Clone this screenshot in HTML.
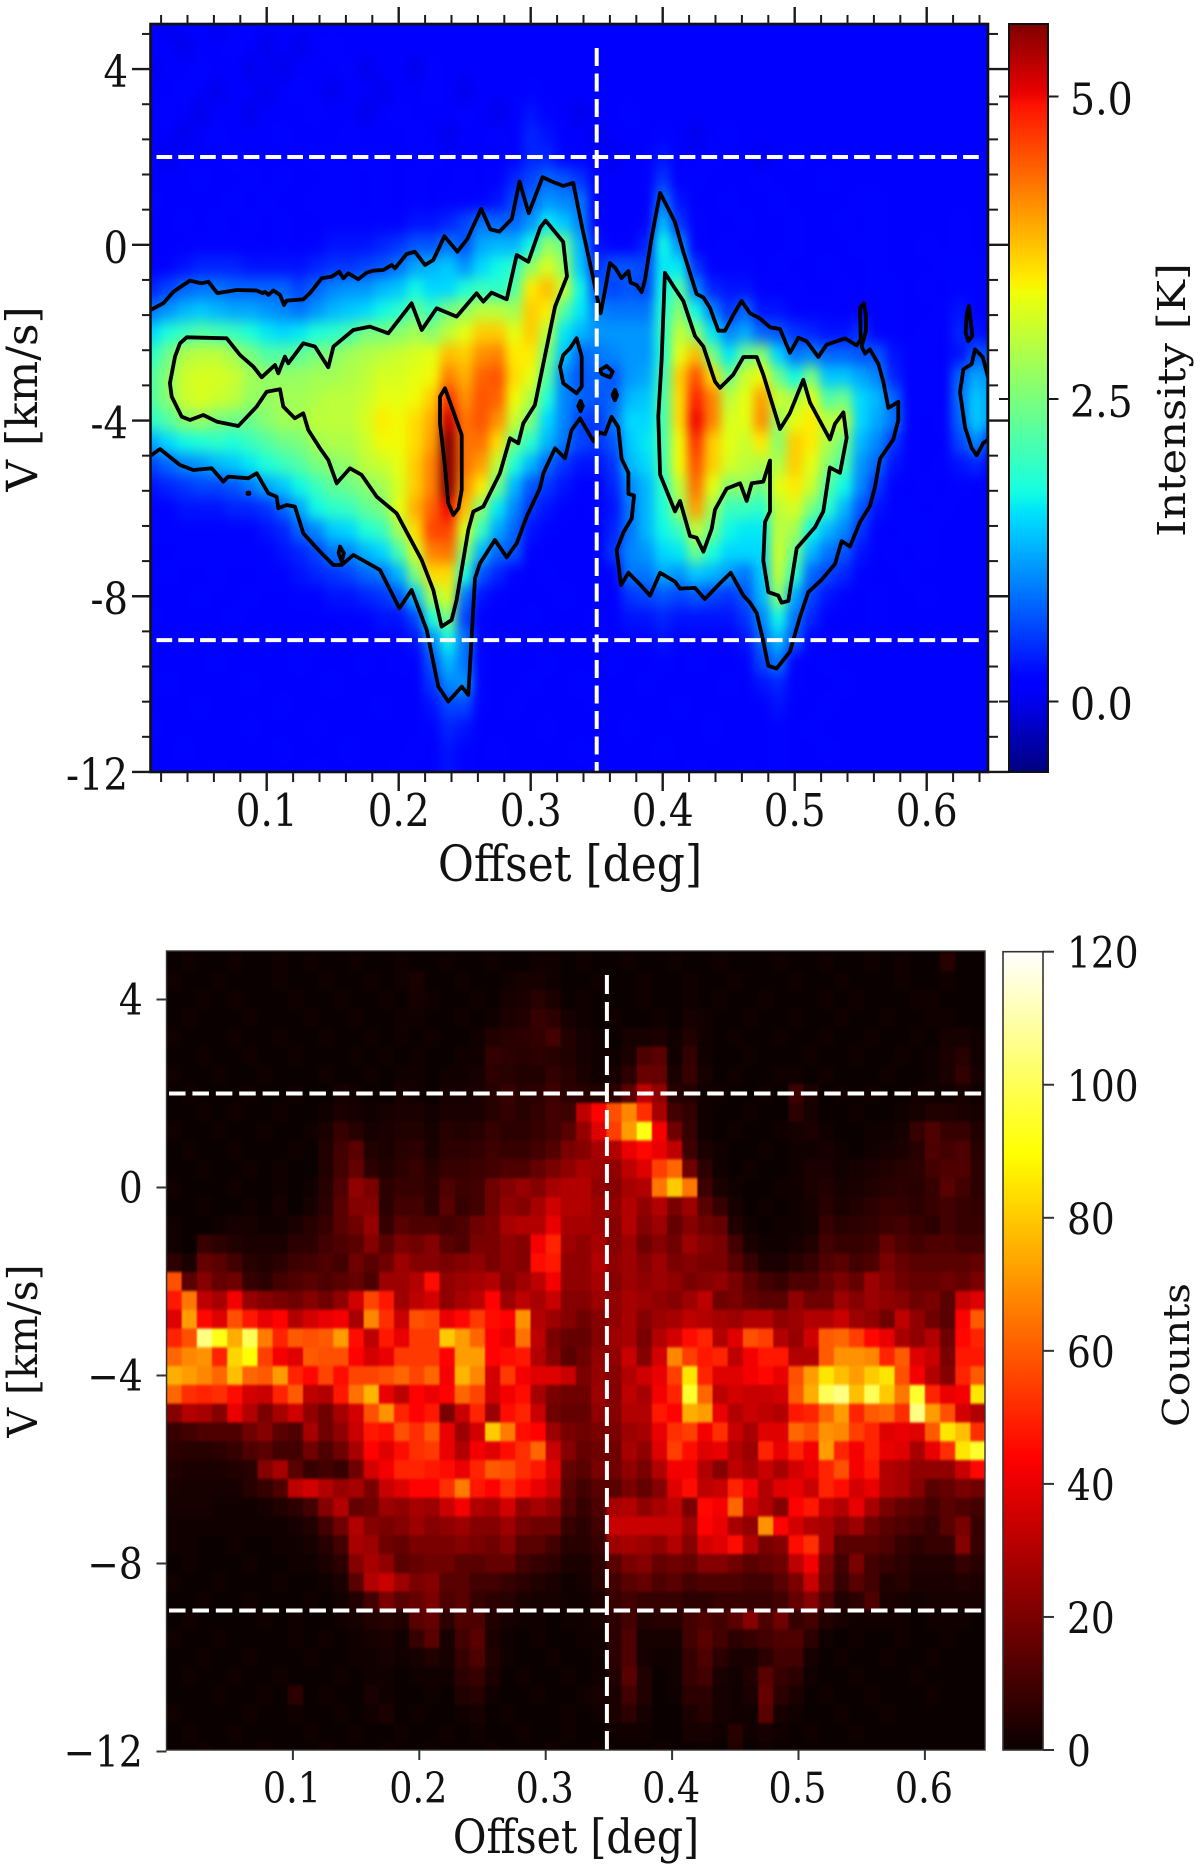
<!DOCTYPE html>
<html lang="en">
<head>
<meta charset="utf-8">
<title>Position-velocity diagrams</title>
<style>
html,body{margin:0;padding:0;background:#fff;}
svg{display:block;}
text{font-family:"DejaVu Serif","Liberation Serif",serif;fill:#111;}
</style>
</head>
<body>
<svg id="fig" width="1200" height="1868" viewBox="0 0 1200 1868" xmlns="http://www.w3.org/2000/svg">
<defs>
<clipPath id="clipTop"><rect x="150.5" y="24" width="837.5" height="748"/></clipPath>
<clipPath id="clipBot"><rect x="166.5" y="951" width="818.5" height="799"/></clipPath>
<filter id="blurTop" filterUnits="userSpaceOnUse" x="100" y="-30" width="950" height="860" color-interpolation-filters="sRGB"><feGaussianBlur stdDeviation="5 7"/></filter>
<filter id="blurBot" filterUnits="userSpaceOnUse" x="140" y="920" width="880" height="860" color-interpolation-filters="sRGB"><feGaussianBlur stdDeviation="0.8 1.4"/></filter>
<linearGradient id="gradJet" x1="0" y1="1" x2="0" y2="0"></linearGradient>
<linearGradient id="gradHot" x1="0" y1="1" x2="0" y2="0"></linearGradient>
</defs>
<g id="panelTop">
<rect x="150.5" y="24" width="837.5" height="748" fill="#0000ff"/>
<g clip-path="url(#clipTop)"><g id="heatTop" filter="url(#blurTop)"></g></g>
<g id="contoursTop" clip-path="url(#clipTop)"></g>
<g id="refTop"></g>
<g id="axesTop"></g>
</g>
<g id="panelBot">
<rect x="166.5" y="951" width="818.5" height="799" fill="#0b0000"/>
<g clip-path="url(#clipBot)"><g id="heatBot" filter="url(#blurBot)"></g></g>
<g id="refBot"></g>
<g id="axesBot"></g>
</g>
</svg>
<script>
// ---------- top panel data ----------
const intensityOffsets=[.0125,.025,.0375,.05,.0625,.075,.0875,.1,.1125,.125,.1375,.15,.1625,.175,.1875,.2,.2125,.225,.2375,.25,.2625,.275,.2875,.3,.3125,.325,.3375,.35,.3625,.375,.3875,.4,.4125,.425,.4375,.45,.4625,.475,.4875,.5,.5125,.525,.5375,.55,.5625,.575,.5875,.6,.6125,.625,.6375,.65];
const intensityVelocities=[5,4.5,4,3.5,3,2.5,2,1.5,1,.5,0,-.5,-1,-1.5,-2,-2.5,-3,-3.5,-4,-4.5,-5,-5.5,-6,-6.5,-7,-7.5,-8,-8.5,-9,-9.5,-10,-10.5,-11,-11.5,-12];
// brightness in tenths of a kelvin per velocity row; values missing at a row's end read as 1
const intensityTenthsK=[
[1,0,1,1,0,1,2],
[1,1,0,1,1,2,1,0,1,0,1,2],
[0,1,1,2,1,1,0,1,0,1,1,1,2,0,1,1,0,2],
[1,1,2,1,0,1,1,0,1,2,1,0,1,1,0,1,1,2,1,0,1,1,1,2],
[1,2,1,0,1,1,0,1,1,1,2,1,1,0,1,2,1,1,1,2,1,0,1,3,2,1,0,1,1,2],
[1,1,0,1,2,1,1,1,2,1,1,1,2,1,1,1,2,1,0,1,1,2,1,4,3,1,1,0,1,1,1,2,1,0,1,2],
[1,0,1,1,1,2,1,1,1,1,2,2,1,2,2,1,1,2,1,1,1,1,2,4,4,2,1,1,0,1,1,3,1,1,2,1,1,0,1,2],
[1,1,1,2,1,1,2,1,2,1,1,2,2,1,2,1,2,1,1,2,1,2,4,6,8,7,5,1,1,1,1,5,1,2,1,1,1,2,1,1,1,2],
[2,1,1,1,1,2,1,2,1,1,2,2,2,1,2,1,2,1,2,2,2,3,6,8,11,10,9,2,1,1,1,9,3,1,1,2,1,1,2,1,1,1,1,2,2],
[1,1,2,1,2,1,2,1,2,1,1,2,2,2,2,2,3,3,4,6,9,8,8,11,16,14,10,2,1,1,2,13,5,2,1,1,2,1,1,2,1,1,2,1,2,1,1,1,1,2],
[1,1,1,2,2,2,1,1,2,1,2,3,3,3,4,5,7,7,9,7,12,13,13,17,27,24,13,3,2,2,4,17,11,2,1,2,1,1,1,2,1,1,1,2,2,1,1,2,1,2],
[1,2,3,4,4,4,3,3,3,3,4,5,5,6,7,9,12,13,14,11,15,17,19,27,32,27,14,5,7,7,6,16,16,5,2,2,2,1,2,1,1,2,1,1,2,1,1,1,2,2,2],
[4,6,8,9,9,8,8,8,8,6,8,10,11,11,13,14,17,15,15,18,20,19,22,35,38,31,17,7,6,7,6,17,22,10,4,3,3,2,1,2,1,1,2,1,2,2,1,2,1,2,2],
[9,11,13,14,13,12,12,11,10,9,11,13,14,15,17,19,23,20,25,27,30,30,28,37,35,22,16,10,9,9,9,18,26,17,10,5,8,3,3,2,2,2,1,2,2,2,1,1,2,3,2],
[15,18,20,22,21,20,18,16,15,16,18,19,21,25,25,26,28,26,30,33,37,37,33,37,30,16,13,11,11,11,11,19,30,26,16,10,12,8,7,5,4,3,3,5,2,2,1,2,1,4,3,2],
[19,24,29,30,30,28,25,22,22,23,25,26,28,29,30,31,32,33,38,37,41,42,35,35,25,14,8,9,10,11,11,18,33,38,25,16,24,26,15,9,10,8,8,7,7,3,2,2,1,3,7,7],
[22,26,31,32,32,31,28,27,27,27,28,28,29,30,32,32,33,34,42,39,44,45,36,33,22,10,7,8,7,11,12,20,37,45,36,24,31,34,24,17,25,14,14,12,10,4,2,2,1,8,12,10],
[22,26,31,32,31,30,27,27,28,28,29,30,30,31,33,33,34,37,47,41,45,44,34,29,18,10,8,7,8,13,14,21,36,48,42,30,33,40,31,29,33,22,24,15,13,8,2,2,1,9,14,11],
[19,22,26,27,25,24,24,26,28,28,30,30,30,32,35,34,36,39,52,43,45,41,31,25,15,10,6,5,9,15,15,21,36,50,42,32,33,41,27,33,35,30,30,15,12,9,2,1,2,8,14,11],
[12,15,17,18,19,18,20,22,24,25,28,29,29,31,34,34,36,40,56,43,43,36,24,19,13,9,6,5,7,14,16,21,34,47,37,33,31,35,26,37,35,29,24,13,10,5,2,1,1,6,10,4],
[6,8,10,11,13,14,16,18,20,22,25,26,27,30,31,33,37,42,57,43,40,30,18,13,8,5,3,3,5,13,15,21,34,45,37,32,30,29,29,37,33,26,21,11,8,3,2,1,2,3,4,2],
[3,4,5,6,6,7,9,12,14,17,20,23,24,26,28,32,37,42,56,41,35,24,13,7,5,3,2,2,4,10,13,19,30,43,33,26,27,24,33,35,31,22,17,10,5,2,1,2,1,2],
[2,2,3,3,3,4,4,5,8,12,17,19,20,23,25,33,39,44,50,38,26,16,10,5,3,2,1,2,3,9,13,18,27,40,28,20,20,19,30,32,25,19,13,7,3,2,2,1,2],
[2,2,2,2,2,2,2,3,4,8,10,14,15,18,20,28,36,46,46,32,20,12,8,3,2,1,1,1,4,9,13,17,20,30,24,17,16,16,30,28,17,13,10,5,2,1,2,2],
[1,1,2,2,2,2,2,2,3,4,6,9,10,13,15,21,32,42,43,26,13,8,7,2,1,1,1,1,5,10,11,15,16,24,18,15,15,15,31,24,13,9,7,3,1,2,1,2],
[1,2,1,1,2,1,1,2,2,3,4,5,6,8,9,13,25,36,36,18,7,4,2,1,2,1,1,1,2,9,9,12,11,14,13,11,9,14,30,19,8,6,4,2,1,1,2],
[1,1,1,2,1,1,2,1,1,2,2,3,3,4,5,7,14,28,32,9,3,2,1,1,1,2,1,1,1,5,6,7,6,7,6,5,7,13,26,12,6,3,2,1,2,1,1,2],
[2,1,1,1,1,2,1,1,1,1,1,1,2,2,3,3,6,18,25,6,2,1,1,2,1,1,1,2,1,3,3,4,3,3,3,3,5,10,17,9,4,2,1,1,2],
[1,1,2,1,1,1,1,2,1,1,2,1,1,1,2,2,3,10,17,9,2,1,2,1,1,1,1,1,1,2,2,3,2,2,2,2,3,8,13,7,2,1,1,2],
[1,1,1,1,2,1,1,1,1,2,1,1,1,2,1,2,2,7,13,9,2,1,1,1,2,1,1,1,2,1,1,2,1,2,1,1,2,6,9,2,1,2],
[1,2,1,1,1,1,2,1,1,1,1,2,1,1,1,1,1,5,10,11,2,1,1,2,1,1,2,1,1,1,2,1,1,1,1,2,1,3,4,2,1,1,2],
[1,1,1,2,1,1,1,1,2,1,1,1,1,1,2,1,1,3,6,6,2,1,2,1,1,1,1,2,1,1,1,1,2,1,1,1,1,1,3,1,1,2],
[2,1,1,1,1,1,2,1,1,1,2,1,1,1,1,1,1,2,4,3,1,1,1,1,2,1,1,1,1,2,1,1,1,1,2,1,1,1,2,1,2],
[1,1,2,1,1,1,1,1,2,1,1,1,2,1,1,1,2,1,3,2,1,2,1,1,1,1,2,1,1,1,1,2,1,1,1,1,1,1,2,1,1,2],
[1,1,1,1,2,1,1,1,1,1,2,1,1,1,1,2,1,1,3,2,1,1,1,2,1,1,1,2,1,1,1,1,1,2,1,1,2,1,2,1]
];
// contour vertices as [offset deg, velocity km/s]
const contourOuter=[[.0128,-1.47],[.0217,-1.33],[.0293,-1.07],[.0368,-.915],[.0419,-.816],[.0507,-.877],[.0558,-.839],[.0626,-1.1],[.0772,-1.03],[.0924,-1.04],[.0969,-1.1],[.0987,-1.07],[.1012,-1.14],[.105,-1.04],[.1101,-1.14],[.1131,-1.37],[.1151,-1.27],[.1277,-1.24],[.1328,-1.1],[.1416,-.763],[.1492,-.725],[.155,-.611],[.158,-.763],[.1618,-.649],[.1694,-.786],[.1757,-.634],[.1808,-.588],[.1883,-.573],[.1947,-.459],[.1972,-.535],[.206,-.209],[.2123,-.156],[.2199,-.459],[.2262,-.346],[.2346,.196],[.2445,-.157],[.252,.13],[.2625,.82],[.2695,.35],[.2764,.3],[.2857,.59],[.2915,1.44],[.2985,.72],[.309,1.54],[.316,1.44],[.3246,1.34],[.3322,1.41],[.339,.39],[.348,-.85],[.3507,-1.24],[.353,-1.556],[.3563,-1.037],[.3601,-.414],[.3639,-.518],[.3689,-.757],[.374,-.598],[.3757,-.861],[.3803,-.917],[.3841,-1.077],[.3866,-.797],[.3916,.161],[.398,1.184],[.4093,.52],[.4156,-.158],[.4257,-1.117],[.4308,-1.197],[.4358,-1.436],[.4421,-1.955],[.4472,-1.955],[.4535,-1.596],[.4598,-1.276],[.4661,-1.556],[.4737,-1.676],[.4813,-1.876],[.4889,-1.916],[.4964,-2.459],[.5028,-2.115],[.5091,-2.195],[.5179,-2.554],[.5242,-2.275],[.5381,-2.131],[.5469,-2.291],[.55,-2.155],[.5495,-1.436],[.5525,-1.332],[.554,-1.596],[.554,-1.955],[.5507,-2.315],[.5533,-2.475],[.557,-2.379],[.5634,-2.714],[.5671,-3.114],[.571,-3.713],[.5785,-3.577],[.5785,-3.992],[.5747,-4.431],[.5646,-4.871],[.5608,-5.51],[.557,-5.949],[.5495,-6.309],[.5419,-6.868],[.5356,-6.748],[.5305,-7.267],[.5204,-7.626],[.5103,-7.906],[.504,-8.465],[.4964,-9.264],[.4863,-9.647],[.48,-9.583],[.4762,-9.024],[.4712,-8.385],[.4661,-8.146],[.4611,-7.986],[.4515,-7.467],[.4434,-7.706],[.432,-8.066],[.4245,-7.81],[.4131,-7.826],[.4093,-7.666],[.398,-7.467],[.3904,-7.986],[.3828,-7.73],[.374,-7.467],[.3684,-7.746],[.3651,-6.947],[.3702,-6.548],[.3765,-6.229],[.3783,-5.71],[.374,-5.669],[.374,-5.19],[.3689,-4.871],[.3664,-4.152],[.3613,-3.912],[.3563,-4.312],[.352,-4.27],[.3475,-4.471],[.3374,-3.952],[.331,-4.215],[.326,-4.86],[.3184,-4.632],[.3096,-5.2],[.307,-5.543],[.297,-6.188],[.2894,-6.795],[.2818,-7.113],[.2729,-6.719],[.2616,-7.25],[.2578,-7.591],[.2527,-10.247],[.2477,-10.057],[.2376,-10.399],[.23,-10.057],[.2212,-8.767],[.2098,-7.857],[.2005,-8.274],[.1858,-7.402],[.1656,-7.06],[.1568,-7.288],[.1505,-7.288],[.1404,-6.985],[.1277,-6.567],[.1214,-5.96],[.1151,-5.922],[.1088,-5.998],[.1075,-5.733],[.1012,-5.657],[.0924,-5.2],[.0861,-5.315],[.0709,-5.277],[.0671,-5.391],[.0583,-5.088],[.0444,-5.126],[.0343,-5.012],[.0192,-4.648],[.0128,-4.784]];
const contourMiddleLeft=[[.0394,-2.106],[.0697,-2.129],[.0798,-2.508],[.0899,-2.774],[.0962,-3.016],[.1063,-2.736],[.1088,-2.925],[.1138,-2.546],[.1164,-2.698],[.1277,-2.242],[.1366,-2.318],[.1467,-2.789],[.1505,-2.318],[.1656,-1.939],[.1782,-1.863],[.1921,-2.015],[.201,-1.673],[.2098,-1.332],[.2174,-1.939],[.2287,-1.446],[.2439,-1.635],[.259,-1.104],[.2641,-1.294],[.2704,-1.089],[.2818,-1.241],[.2894,-.232],[.2982,-.384],[.3072,.39],[.3113,.55],[.3246,.065],[.3275,-.72],[.3184,-1.408],[.3032,-3.646],[.2944,-4.063],[.2906,-4.519],[.2843,-4.405],[.2767,-5.201],[.2641,-5.96],[.2565,-6.074],[.2527,-6.491],[.2439,-8.085],[.2401,-8.54],[.2325,-8.692],[.2262,-7.857],[.2174,-7.174],[.1984,-6.112],[.1833,-5.733],[.1719,-5.239],[.1631,-5.088],[.153,-5.429],[.1467,-4.898],[.1404,-4.632],[.1315,-4.215],[.1277,-3.836],[.1214,-3.95],[.1126,-3.684],[.1101,-3.29],[.1,-3.343],[.0924,-3.684],[.0785,-4.124],[.0621,-4.025],[.052,-3.874],[.0419,-3.988],[.0356,-3.912],[.028,-3.456],[.0267,-3.153],[.0305,-2.546],[.0343,-2.242]];
const contourPeak=[[.2351,-3.267],[.2401,-3.684],[.2477,-4.329],[.2477,-5.581],[.2452,-6],[.2414,-6.15],[.2376,-5.884],[.2351,-5.05],[.2313,-4.063],[.2313,-3.456]];
const contourHole=[[.3348,-2.129],[.3386,-2.546],[.3386,-3.229],[.3348,-3.38],[.3247,-3.153],[.3222,-2.774],[.3247,-2.508],[.3298,-2.356]];
const contourGapLoop=[[.3525,-2.85],[.3575,-2.76],[.3621,-2.888],[.3601,-3.016],[.3538,-2.94]];
const contourDotA=[[.3378,-3.55],[.3395,-3.67],[.3378,-3.79],[.336,-3.67]];
const contourDotB=[[.3638,-3.3],[.3655,-3.42],[.3638,-3.54],[.362,-3.42]];
const contourDotC=[[.0855,-5.64],[.0868,-5.64],[.0868,-5.67],[.0855,-5.67]];
const contourLoop=[[.1555,-6.87],[.1585,-7.02],[.1568,-7.21],[.1545,-7.02]];
const contourMiddleRight=[[.4017,-.638],[.4093,-.997],[.4156,-1.276],[.4245,-2.075],[.4308,-2.315],[.4396,-3.114],[.4434,-3.257],[.4535,-2.954],[.4611,-2.555],[.4712,-2.555],[.4762,-2.954],[.4889,-4.192],[.4964,-3.832],[.5065,-3.074],[.5116,-3.593],[.5267,-4.431],[.5305,-4.072],[.5369,-3.816],[.5394,-4.391],[.5343,-5.19],[.5267,-5.07],[.5217,-6.069],[.5154,-6.428],[.5015,-6.908],[.4952,-8.106],[.4901,-8.146],[.4876,-7.986],[.48,-7.906],[.4762,-7.187],[.4775,-6.309],[.4813,-6.069],[.4813,-4.91],[.4762,-5.39],[.4674,-5.43],[.4636,-5.829],[.4586,-5.43],[.4485,-5.55],[.4396,-6.029],[.4371,-6.468],[.4308,-6.987],[.4257,-6.668],[.4207,-6.628],[.4131,-5.829],[.4093,-6.069],[.398,-5.23],[.3967,-3.912],[.3992,-2.634]];
const contourIsland=[[.6366,-2.379],[.6424,-2.554],[.6467,-3.034],[.6467,-4.431],[.6429,-4.511],[.6379,-4.791],[.6341,-4.631],[.629,-4.152],[.6252,-3.353],[.6278,-2.834],[.6341,-2.714]];
const contourSpike=[[.632,-1.396],[.6346,-2.075],[.6315,-2.195],[.6295,-1.995],[.6303,-1.596]];
const offsetTicks=[.1,.2,.3,.4,.5,.6];
const offsetTickLabels=["0.1","0.2","0.3","0.4","0.5","0.6"];
const velocityTicks=[4,0,-4,-8,-12];
const velocityLabelsTop=["4","0","-4","-8","-12"];
const velocityLabelsBottom=["4","0","\u22124","\u22128","\u221212"];
const intensityBarTicks=[0,2.5,5];
const intensityBarLabels=["0.0","2.5","5.0"];
const countBarTicks=[0,20,40,60,80,100,120];
const countBarLabels=["0","20","40","60","80","100","120"];
const referenceVelocities=[2,-9];
const referenceOffset=[.35];

// ---------- bottom panel data ----------
const countOffsets=[.006,.018,.03,.042,.054,.066,.078,.09,.102,.114,.126,.138,.15,.162,.174,.186,.198,.21,.222,.234,.246,.258,.27,.282,.294,.306,.318,.33,.342,.354,.366,.378,.39,.402,.414,.426,.438,.45,.462,.474,.486,.498,.51,.522,.534,.546,.558,.57,.582,.594,.606,.618,.63,.642];
const countVelocities=[4.8,4.4,4,3.6,3.2,2.8,2.4,2,1.6,1.2,.8,.4,0,-.4,-.8,-1.2,-1.6,-2,-2.4,-2.8,-3.2,-3.6,-4,-4.4,-4.8,-5.2,-5.6,-6,-6.4,-6.8,-7.2,-7.6,-8,-8.4,-8.8,-9.2,-9.6,-10,-10.4,-10.8,-11.2,-11.6,-12];
// counts per velocity row; values missing at a row's end read as 0
const countRows=[
[0,1,0,0,1,0,0,1,0,1,0,0,1,0,0,1,0,0,1,0,0,1,0,0,1,1,0,1,0,0,1,0,0,1,0,0,1,0,0,0,1,0,0,1,0,0,1,0,1,0,0,5],
[1,0,0,1,0,0,0,1,0,0,1,0,0,1,0,1,3,0,0,1,0,0,1,2,2,1,0,0,1,0,0,1,0,0,1,0,0,1,0,0,0,1,0,0,1,0,0,0,1,0,0,1],
[0,0,1,0,1,0,0,0,1,0,0,1,0,0,1,0,2,1,0,0,1,0,2,3,5,3,0,1,0,0,0,1,0,0,1,0,1,0,0,1,0,0,0,1,0,1,0,0,0,1,1],
[0,1,0,0,0,1,0,0,0,1,0,0,1,0,0,1,1,0,0,1,0,1,3,4,8,6,2,1,0,1,0,0,1,0,2,1,0,0,1,0,0,1,0,0,1,0,0,1,0,0,1,1],
[1,0,0,0,1,0,0,1,0,0,1,0,0,1,0,1,0,1,0,0,1,4,5,6,7,10,4,2,1,0,2,2,3,1,4,1,0,1,0,0,1,0,0,1,0,0,1,0,0,1,0,2,2,1],
[0,0,1,0,0,1,0,0,1,0,0,0,1,0,1,0,1,0,0,1,1,7,6,5,6,5,4,2,1,1,3,12,14,1,7,1,0,0,1,0,0,0,1,0,0,1,0,0,1,0,1,3,5,1],
[1,0,0,1,0,0,1,0,0,0,1,0,0,1,0,1,1,0,1,1,2,6,5,4,4,7,5,3,1,2,6,17,16,3,8,2,0,1,0,0,1,1,0,1,0,0,0,1,0,0,1,3,7,2],
[0,1,0,0,0,1,0,0,1,0,0,2,1,0,0,2,1,0,2,2,3,5,8,5,6,9,6,5,4,6,14,32,24,5,4,1,1,0,0,1,0,9,3,0,1,0,1,0,0,1,1,1,2,1],
[0,0,1,0,1,0,0,1,0,0,1,3,2,1,2,3,3,1,3,3,3,5,7,5,7,10,9,32,44,58,68,52,28,10,7,1,0,0,1,0,0,6,2,0,0,1,0,0,1,2,4,4,3,2],
[1,0,0,1,0,0,1,0,0,1,3,8,5,2,3,4,4,2,5,4,5,8,6,6,8,10,14,25,38,55,72,92,42,18,8,1,0,1,0,0,1,2,3,1,0,0,1,1,2,8,12,8,8,4],
[0,1,0,0,1,0,0,0,1,0,4,10,14,4,3,5,6,3,6,6,7,9,8,8,10,13,20,22,28,30,40,45,40,32,9,3,1,0,0,1,0,1,1,2,1,0,1,2,3,5,12,10,12,5],
[0,0,1,0,0,1,0,1,0,0,4,10,16,6,4,6,8,5,8,8,9,10,12,12,16,20,24,28,26,24,32,38,55,62,18,6,1,0,1,0,0,1,3,3,1,2,3,4,5,6,10,12,12,6],
[1,0,0,0,1,0,0,1,0,1,5,12,24,20,6,8,8,6,12,9,10,18,22,25,22,28,30,30,24,22,28,30,65,80,65,9,3,1,0,0,1,1,3,4,2,3,4,5,6,5,8,14,10,6],
[0,0,1,0,0,1,0,2,0,2,6,14,22,22,6,10,10,6,14,8,10,18,24,22,28,35,30,30,26,24,30,24,30,20,26,14,8,2,0,1,0,1,2,5,3,4,6,8,7,6,8,10,8,7],
[1,0,0,1,2,2,1,1,3,5,8,14,18,25,8,14,12,12,10,12,18,20,28,30,30,40,28,28,26,22,30,22,26,16,22,18,16,4,1,0,1,1,2,8,5,6,7,9,10,8,6,10,8,8],
[1,0,8,6,4,3,3,3,6,6,10,12,14,22,14,20,18,22,14,12,20,20,24,22,42,50,26,24,28,22,26,18,22,18,26,22,20,10,3,1,1,2,4,10,8,8,9,16,12,10,12,12,10,10],
[6,3,16,14,10,5,4,6,9,10,12,10,18,14,18,26,22,22,20,22,24,20,24,22,46,48,24,24,30,24,26,22,26,20,22,20,20,14,8,3,3,5,8,12,14,10,12,20,16,14,14,14,14,16],
[58,14,22,16,18,8,6,10,12,14,12,14,16,12,26,26,30,46,24,26,28,30,22,26,32,42,24,24,28,22,26,24,26,24,20,22,24,20,14,10,8,12,12,16,20,16,26,22,18,16,16,18,16,20],
[48,65,32,28,42,25,22,20,18,22,18,24,36,56,48,26,32,36,24,28,32,44,26,32,28,34,22,22,26,24,28,26,24,22,26,32,18,20,16,14,14,24,18,18,26,22,26,24,22,18,20,14,34,38],
[38,72,45,38,58,48,40,44,30,36,40,42,28,68,52,34,58,56,40,45,54,46,44,70,30,26,22,18,22,24,28,22,26,28,32,30,28,26,30,30,24,26,30,30,34,26,24,18,32,24,18,14,44,60],
[50,58,105,92,75,100,66,50,60,58,60,72,46,32,48,40,54,54,80,72,62,44,40,64,32,20,16,16,22,26,28,20,30,36,46,50,30,38,58,55,30,25,35,60,62,55,45,40,28,24,30,18,45,50],
[62,68,70,50,82,90,55,42,38,60,58,58,44,36,40,54,54,54,44,72,72,44,46,48,30,22,14,18,24,24,34,22,36,68,55,48,50,32,42,48,48,30,30,60,70,70,68,50,60,38,34,20,48,48],
[75,72,68,62,78,62,60,72,50,45,56,46,56,56,58,62,56,62,42,76,68,36,54,42,38,38,34,20,25,22,30,35,40,55,85,50,38,38,42,45,40,58,72,85,78,72,80,85,58,42,30,22,50,60],
[62,52,50,52,46,36,34,50,60,32,30,48,64,76,40,32,44,40,44,62,56,36,42,46,28,20,18,18,26,22,32,28,42,50,95,62,32,36,34,34,36,60,75,100,105,78,100,80,65,95,50,40,42,85],
[22,30,28,22,40,30,20,28,35,24,18,28,36,58,70,50,44,48,20,34,50,26,46,50,34,18,16,16,24,22,30,30,48,44,75,72,40,30,34,32,30,48,50,62,72,50,60,62,52,105,72,58,36,30],
[8,10,12,12,12,18,22,14,12,28,18,24,34,48,46,58,52,60,40,26,36,80,66,46,44,26,20,18,20,20,26,28,40,52,55,42,52,34,28,38,38,62,58,70,68,55,50,38,40,38,60,85,78,52],
[6,5,5,6,8,12,14,10,10,18,12,18,28,44,38,46,52,54,40,30,42,38,46,52,62,34,22,16,18,18,28,24,38,55,46,38,40,30,26,50,40,50,42,72,50,42,50,40,38,28,40,52,85,95],
[4,3,3,3,4,5,22,28,14,8,10,8,18,36,42,50,50,48,46,40,50,60,58,52,48,38,16,14,20,18,24,20,30,42,42,30,22,32,28,34,28,36,40,50,58,42,48,30,28,24,24,24,34,45],
[3,2,2,2,2,5,8,12,32,36,30,25,28,20,34,38,44,44,52,66,48,44,52,46,40,34,14,10,14,14,20,16,22,38,46,32,34,50,42,30,38,40,34,50,46,36,40,30,28,22,14,16,20,18],
[2,2,2,1,1,1,2,4,6,10,22,30,16,18,26,24,28,26,34,42,30,28,36,24,28,24,12,8,12,28,30,24,28,32,20,45,42,62,35,30,22,44,48,34,30,40,28,20,16,14,10,14,12,10],
[1,1,1,1,1,1,1,1,2,4,10,18,30,22,20,22,26,22,24,26,22,22,26,20,18,18,8,6,10,34,34,34,34,34,26,44,40,28,24,70,44,36,30,28,22,26,18,14,12,10,8,14,20,8],
[1,1,0,0,1,0,0,1,1,2,5,10,28,26,18,16,20,20,20,22,20,18,22,14,14,10,5,5,8,26,28,26,24,30,22,36,38,46,30,20,22,46,52,28,14,14,14,12,8,6,8,8,22,8],
[0,1,0,0,0,1,0,0,1,1,3,6,22,28,24,14,16,18,18,14,14,16,16,10,8,6,3,3,6,14,20,22,16,18,16,22,22,18,14,16,18,32,42,20,10,20,10,8,6,4,4,4,8,5],
[1,0,0,1,0,0,0,1,0,0,1,3,14,30,34,26,20,22,14,14,10,10,8,6,4,3,1,2,5,10,14,16,12,14,10,12,12,12,10,10,14,20,34,18,8,14,10,4,5,3,3,3,4,3],
[0,0,1,0,0,1,0,0,0,1,0,1,4,10,20,14,16,20,12,14,8,6,5,3,2,2,1,1,3,8,10,8,8,8,6,6,8,8,8,8,10,16,22,12,4,6,12,3,2,1,2,2,2,2],
[0,1,0,0,0,0,1,0,1,0,0,1,2,4,5,4,14,16,6,12,12,4,2,1,1,0,1,1,2,6,10,4,5,5,10,12,10,14,22,12,18,8,10,4,2,1,1,1,1,0,1,1,1],
[1,0,0,1,0,0,0,0,1,0,1,0,1,2,3,1,8,14,2,10,14,3,1,0,1,0,0,1,1,6,12,2,2,2,10,14,10,6,8,10,12,12,6,1,0,1,0,0,1,0,0,1],
[0,0,1,0,0,1,0,0,0,1,0,0,1,1,2,1,2,4,2,8,12,4,1,0,0,1,0,0,1,6,12,2,1,1,8,12,6,3,3,6,10,10,2,0,1,0,0,1,0,0,1],
[0,1,0,0,1,0,0,1,0,0,0,1,0,1,1,0,1,1,1,6,8,3,0,1,0,0,1,0,1,4,14,4,0,1,8,10,3,1,4,14,8,6,1,0,0,1,0,0,0,1],
[0,0,0,1,0,0,1,0,6,0,1,0,0,3,1,0,0,1,0,4,5,1,0,0,1,0,0,1,2,3,10,4,0,1,6,6,2,1,3,16,6,3,0,1,0,0,1,0,0,0,1],
[1,0,0,0,0,1,0,0,1,0,0,1,0,1,3,0,1,0,0,1,2,0,1,0,0,0,1,0,1,3,6,2,0,0,3,5,2,1,1,14,2,1,0,0,1,0,0,1],
[0,1,0,0,1,0,0,0,0,1,0,0,1,0,0,1,0,0,1,0,1,0,0,1,0,0,1,0,0,1,1,1,0,0,2,2,1,5,1,2,1,0,1,0,0,1],
[0,0,1,0,0,0,1,0,0,0,1,0,0,0,1,0,0,1,0,0,0,1,0,0,0,1,0,0,1,0,0,0,1,0,0,1,0,4,0,1]
];

// ---------- axis functions ----------
const xTop=o=>266.7+(o-.1)*1320;
const yTop=v=>244.8-v*43.93;
const xBot=o=>166.5+o*1264;
const yBot=v=>1187.5-v*47;
const yBarTop=v=>701.5-v*121;
const yBarBot=v=>1750-v*6.6525;

// ---------- colormaps ----------
const clamp=t=>Math.max(0,Math.min(1,t));
function jet(f){
  const r=f<.35?0:f<.66?(f-.35)/.31:f<.89?1:1-(f-.89)/.11*.5;
  const g=f<.125?0:f<.375?(f-.125)/.25:f<.64?1:f<.91?1-(f-.64)/.27:0;
  const b=f<.11?.5+f/.11*.5:f<.34?1:f<.65?1-(f-.34)/.31:0;
  return 'rgb('+Math.round(r*255)+','+Math.round(g*255)+','+Math.round(b*255)+')';
}
function hot(f){
  const r=f<.365?.0416+f/.365*.9584:1;
  const g=f<.365?0:f<.746?(f-.365)/.381:1;
  const b=f<.746?0:(f-.746)/.254;
  return 'rgb('+Math.round(r*255)+','+Math.round(g*255)+','+Math.round(b*255)+')';
}
const jetOf=v=>jet(clamp((v+.583)/6.183));
const hotOf=v=>hot(clamp(v/120));

// ---------- svg helpers ----------
const NS='http://www.w3.org/2000/svg';
function mk(tag,parent,attrs){
  const el=document.createElementNS(NS,tag);
  for(const k in attrs) el.setAttribute(k,attrs[k]);
  parent.appendChild(el);
  return el;
}
function line(parent,x1,y1,x2,y2,w,col){
  return mk('line',parent,{x1:x1,y1:y1,x2:x2,y2:y2,stroke:col||'#1a1a1a','stroke-width':w});
}
function label(parent,str,x,y,size,anchor,sy,rot){
  const tf=rot?'translate('+x+','+y+') rotate(-90) scale('+sy+',1)':'translate('+x+','+y+') scale(1,'+sy+')';
  const t=mk('text',parent,{transform:tf,'font-size':size,'text-anchor':anchor});
  t.textContent=str;
  return t;
}

// ---------- top heatmap ----------
const heatTop=document.getElementById('heatTop');
intensityVelocities.forEach((v,i)=>{
  intensityOffsets.forEach((o,j)=>{
    const raw=intensityTenthsK[i][j];
    const val=(raw===undefined?1:raw)/10;
    let x0=xTop(o-.00625),x1=xTop(o+.00625),y0=yTop(v+.25),y1=yTop(v-.25);
    if(j===0) x0-=30;
    if(j===intensityOffsets.length-1) x1+=30;
    if(i===0) y0-=30;
    if(i===intensityVelocities.length-1) y1+=30;
    const c=mk('rect',heatTop,{x:x0,y:y0,width:x1-x0+.6,height:y1-y0+.6,fill:jetOf(val)});
    
    
  });
});

// ---------- contours ----------
const contourLayer=document.getElementById('contoursTop');
function contour(pts,closed,name){
  const d=pts.map((p,i)=>(i?'L':'M')+xTop(p[0]).toFixed(1)+' '+yTop(p[1]).toFixed(1)).join('')+(closed?'Z':'');
  const p=mk('path',contourLayer,{d:d,fill:'none',stroke:'#000','stroke-width':3.8,'stroke-linejoin':'round','stroke-linecap':'round'});
  
  
}
contour(contourOuter,false,'contour-outer');
contour(contourMiddleLeft,true,'contour-middle-left');
contour(contourPeak,true,'contour-peak');
contour(contourHole,true,'contour-hole');
contour(contourGapLoop,true,'contour-gap-loop');
contour(contourDotA,true,'contour-dot-a');
contour(contourDotB,true,'contour-dot-b');
contour(contourDotC,true,'contour-dot-c');
contour(contourLoop,true,'contour-small-loop');
contour(contourMiddleRight,true,'contour-middle-right');
contour(contourIsland,true,'contour-island');
contour(contourSpike,true,'contour-spike');

// ---------- top reference lines ----------
const refTop=document.getElementById('refTop');
referenceVelocities.forEach(v=>{
  const l=line(refTop,xTop(.0165),yTop(v),xTop(.6415),yTop(v),4,'#fff');
  l.setAttribute('stroke-dasharray','15.7 6.1');
  
  
});
referenceOffset.forEach(o=>{
  const l=line(refTop,xTop(o),yTop(4.48),xTop(o),yTop(-12),4,'#fff');
  l.setAttribute('stroke-dasharray','18 7.5');
  
  
});

// ---------- top axes ----------
const axT=document.getElementById('axesTop');
const frameT=mk('rect',axT,{x:150.5,y:24,width:837.5,height:748,fill:'none',stroke:'#111','stroke-width':2.6});


for(let m=1;m<=32;m++){
  const o=m*.02;
  if(m%5===0) continue;
  const a=line(axT,xTop(o),772,xTop(o),782,2);
  
  
  const b=line(axT,xTop(o),24,xTop(o),15,2);
  
  
}
offsetTicks.forEach((o,i)=>{
  const a=line(axT,xTop(o),772,xTop(o),791,2.4);
  
  
  const b=line(axT,xTop(o),24,xTop(o),7,2.4);
  
  
  const t=label(axT,offsetTickLabels[i],xTop(o),826,39,'middle',1.15);
  
  
});
for(let m=-15;m<=6;m++){
  const v=m*.8;
  if(m%5===0) continue;
  const a=line(axT,150.5,yTop(v),142,yTop(v),2);
  
  
  const b=line(axT,988,yTop(v),998,yTop(v),2);
  
  
}
velocityTicks.forEach((v,i)=>{
  const a=line(axT,150.5,yTop(v),132,yTop(v),2.4);
  
  
  const b=line(axT,988,yTop(v),1009,yTop(v),2.4);
  
  
  const t=label(axT,velocityLabelsTop[i],128,yTop(v)+18,38.5,'end',1.15);
  
  
});
const xtT=label(axT,'Offset [deg]',570,881,44,'middle',1.13);


const ytT=label(axT,'V [km/s]',37,399,43,'middle',1.02,true);



// ---------- top colorbar ----------
const gradJet=document.getElementById('gradJet');
for(let s=0;s<=100;s++){
  const st=mk('stop',gradJet,{offset:s/100,'stop-color':jet(s/100)});
}
const barT=mk('rect',axT,{x:1009,y:24,width:39,height:748,fill:'url(#gradJet)',stroke:'#111','stroke-width':2});


intensityBarTicks.forEach((v,i)=>{
  const a=line(axT,999,yBarTop(v),1009,yBarTop(v),2);
  
  
  const b=line(axT,1048,yBarTop(v),1058.5,yBarTop(v),2);
  
  
  const t=label(axT,intensityBarLabels[i],1070,yBarTop(v)+18,39.5,'start',1.12);
  
  
});
const cbT=label(axT,'Intensity [K]',1185,400,38,'middle',1.14,true);



// ---------- bottom heatmap ----------
const heatBot=document.getElementById('heatBot');
countVelocities.forEach((v,i)=>{
  countOffsets.forEach((o,j)=>{
    const val=countRows[i][j]||0;
    const x0=xBot(o-.006),x1=xBot(o+.006),y0=yBot(v+.2),y1=yBot(v-.2);
    const c=mk('rect',heatBot,{x:x0,y:y0,width:x1-x0+.4,height:y1-y0+.4,fill:hotOf(val)});
    
    
  });
});

// ---------- bottom reference lines ----------
const refBot=document.getElementById('refBot');
referenceVelocities.forEach(v=>{
  const l=line(refBot,xBot(.002),yBot(v),xBot(.6455),yBot(v),4,'#fff');
  l.setAttribute('stroke-dasharray','16.5 6.9');
  
  
});
referenceOffset.forEach(o=>{
  const l=line(refBot,xBot(o)-2,yBot(4.52),xBot(o)-2,yBot(-12),4,'#fff');
  l.setAttribute('stroke-dasharray','19 8');
  
  
});

// ---------- bottom axes ----------
const axB=document.getElementById('axesBot');
const frameB=mk('rect',axB,{x:166.5,y:951,width:818.5,height:799,fill:'none',stroke:'#333','stroke-width':1.4});


offsetTicks.forEach((o,i)=>{
  const a=line(axB,xBot(o),1750,xBot(o),1760,2,'#333');
  
  
  const t=label(axB,offsetTickLabels[i],xBot(o)-1,1802.7,36.5,'middle',1.16);
  
  
});
velocityTicks.forEach((v,i)=>{
  const a=line(axB,166.5,yBot(v),156.5,yBot(v),2,'#333');
  
  
  const t=label(axB,velocityLabelsBottom[i],142.7,yBot(v)+15.5,37.5,'end',1.14);
  
  
});
const xtB=label(axB,'Offset [deg]',576,1853,41,'middle',1.13);


const ytB=label(axB,'V [km/s]',37,1351,41,'middle',1,true);



// ---------- bottom colorbar ----------
const gradHot=document.getElementById('gradHot');
for(let s=0;s<=100;s++){
  const st=mk('stop',gradHot,{offset:s/100,'stop-color':hot(s/100)});
}
const barB=mk('rect',axB,{x:1003,y:951.7,width:40,height:798.3,fill:'url(#gradHot)',stroke:'#333','stroke-width':1.6});


countBarTicks.forEach((v,i)=>{
  const a=line(axB,1043,yBarBot(v),1054,yBarBot(v),2,'#333');
  
  
  const t=label(axB,countBarLabels[i],1067,yBarBot(v)+16.5,37.5,'start',1.14);
  
  
});
const cbB=label(axB,'Counts',1189,1355,36,'middle',1.12,true);


</script>
</body>
</html>
